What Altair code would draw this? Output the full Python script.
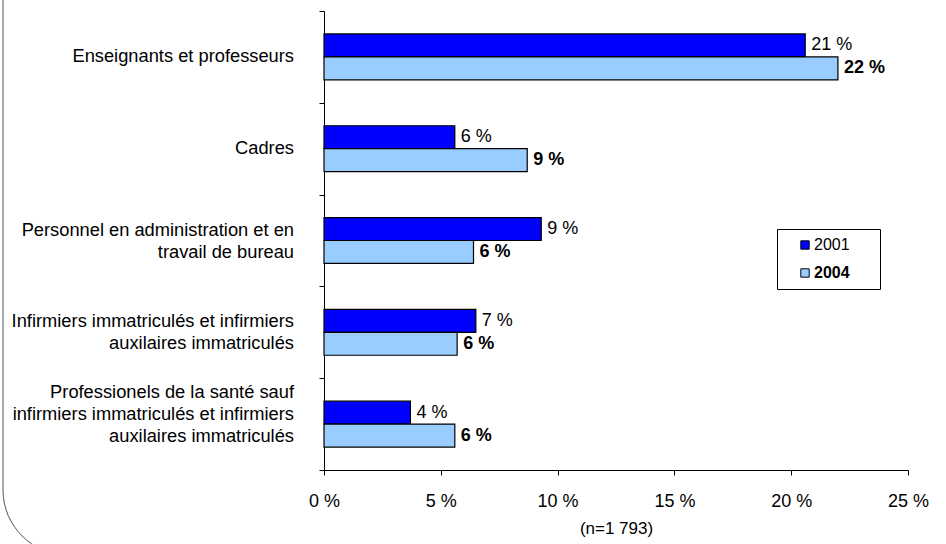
import altair as alt
import pandas as pd

categories = [
    "Enseignants et professeurs",
    "Cadres",
    "Personnel en administration et en|travail de bureau",
    "Infirmiers immatriculés et infirmiers|auxilaires immatriculés",
    "Professionels de la santé sauf|infirmiers immatriculés et infirmiers|auxilaires immatriculés",
]
years = ["2001", "2004"]
values_2001 = [20.6, 5.6, 9.3, 6.5, 3.7]
values_2004 = [22.0, 8.7, 6.4, 5.7, 5.6]
x_ticks = [0, 5, 10, 15, 20, 25]
colors = ["#0000FF", "#99CCFF"]

rows = []
for c, a, b in zip(categories, values_2001, values_2004):
    rows.append({"cat": c, "year": "2001", "value": a})
    rows.append({"cat": c, "year": "2004", "value": b})
df = pd.DataFrame(rows)
cat_df = pd.DataFrame({"cat": categories})

FONT = "Liberation Sans"

y_enc = alt.Y(
    "cat:N",
    sort=categories,
    scale=alt.Scale(paddingInner=0, paddingOuter=0),
    axis=alt.Axis(
        title=None,
        labels=False,
        tickBand="extent",
        tickSize=5,
        tickColor="black",
        domainColor="black",
        grid=False,
    ),
)
yoff_enc = alt.YOffset("year:N", sort=years, scale=alt.Scale(paddingInner=0, paddingOuter=1))
x_enc = alt.X(
    "value:Q",
    scale=alt.Scale(domain=[0, 25], nice=False),
    axis=alt.Axis(
        values=x_ticks,
        labelExpr="datum.value + ' %'",
        labelFontSize=18,
        labelFont=FONT,
        labelColor="black",
        labelFlush=False,
        labelOverlap=False,
        labelPadding=17,
        tickSize=5,
        tickColor="black",
        domainColor="black",
        grid=False,
        title="(n=1 793)",
        titleFont=FONT,
        titleFontSize=17,
        titleFontWeight="normal",
        titleColor="black",
        titlePadding=10,
    ),
)

# trailing no-break spaces keep the legend box as wide as in the original;
# the final zero-width space stops them from being trimmed
pad = "\u00a0" * 5 + "\u200b"

base = alt.Chart(df)

bars = base.mark_bar(stroke="black", strokeWidth=1.2).encode(
    y=y_enc,
    yOffset=yoff_enc,
    x=x_enc,
    color=alt.Color(
        "year:N",
        sort=years,
        scale=alt.Scale(domain=years, range=colors),
        legend=alt.Legend(
            title=None,
            orient="none",
            legendX=453,
            legendY=218,
            fillColor="white",
            strokeColor="black",
            padding=8,
            symbolType="square",
            symbolSize=70,
            symbolStrokeColor="black",
            symbolStrokeWidth=1,
            symbolOffset=12,
            labelFontSize=16,
            labelFont=FONT,
            labelColor="black",
            labelFontWeight=alt.ExprRef("datum.value == '2004' ? 'bold' : 'normal'"),
            labelExpr="datum.label + '" + pad + "'",
            labelOffset=1,
            labelLimit=200,
            rowPadding=12,
        ),
    ),
)

labels_2001 = base.transform_filter(alt.datum.year == "2001").transform_calculate(
    lab="round(datum.value) + ' %'"
).mark_text(align="left", baseline="middle", dx=6, fontSize=18, font=FONT, color="black").encode(
    y=alt.Y("cat:N", sort=categories),
    yOffset=alt.YOffset("year:N", sort=years),
    x=alt.X("value:Q"),
    text="lab:N",
)

labels_2004 = base.transform_filter(alt.datum.year == "2004").transform_calculate(
    lab="round(datum.value) + ' %'"
).mark_text(align="left", baseline="middle", dx=6, fontSize=18, font=FONT, color="black",
            fontWeight="bold").encode(
    y=alt.Y("cat:N", sort=categories),
    yOffset=alt.YOffset("year:N", sort=years),
    x=alt.X("value:Q"),
    text="lab:N",
)


def cat_labels(nlines, dy):
    return alt.Chart(cat_df).transform_calculate(
        lines="split(datum.cat, '|')"
    ).transform_filter(
        f"length(datum.lines) == {nlines}"
    ).mark_text(
        align="right", baseline="middle", fontSize=18.3, font=FONT, color="black",
        lineHeight=22, dy=dy,
    ).encode(
        y=alt.Y("cat:N", sort=categories),
        x=alt.value(-30),
        text="lines:N",
    )


frame = alt.Chart(pd.DataFrame({"k": [0]})).mark_rect(
    fill="white", fillOpacity=0, stroke="#555555", strokeWidth=1, cornerRadius=65
).encode(
    x=alt.value(-321), x2=alt.value(1200), y=alt.value(-100), y2=alt.value(544)
)

chart = alt.layer(
    frame, bars, labels_2001, labels_2004,
    cat_labels(1, 0), cat_labels(2, -10), cat_labels(3, -31),
).properties(
    width=584,
    height=459,
    autosize=alt.AutoSizeParams(type="none"),
    padding={"left": 324, "top": 11, "right": 38, "bottom": 74},
    background="white",
).configure_view(strokeWidth=0)

chart.save("out.html", embed_options={"renderer": "svg", "actions": False})
